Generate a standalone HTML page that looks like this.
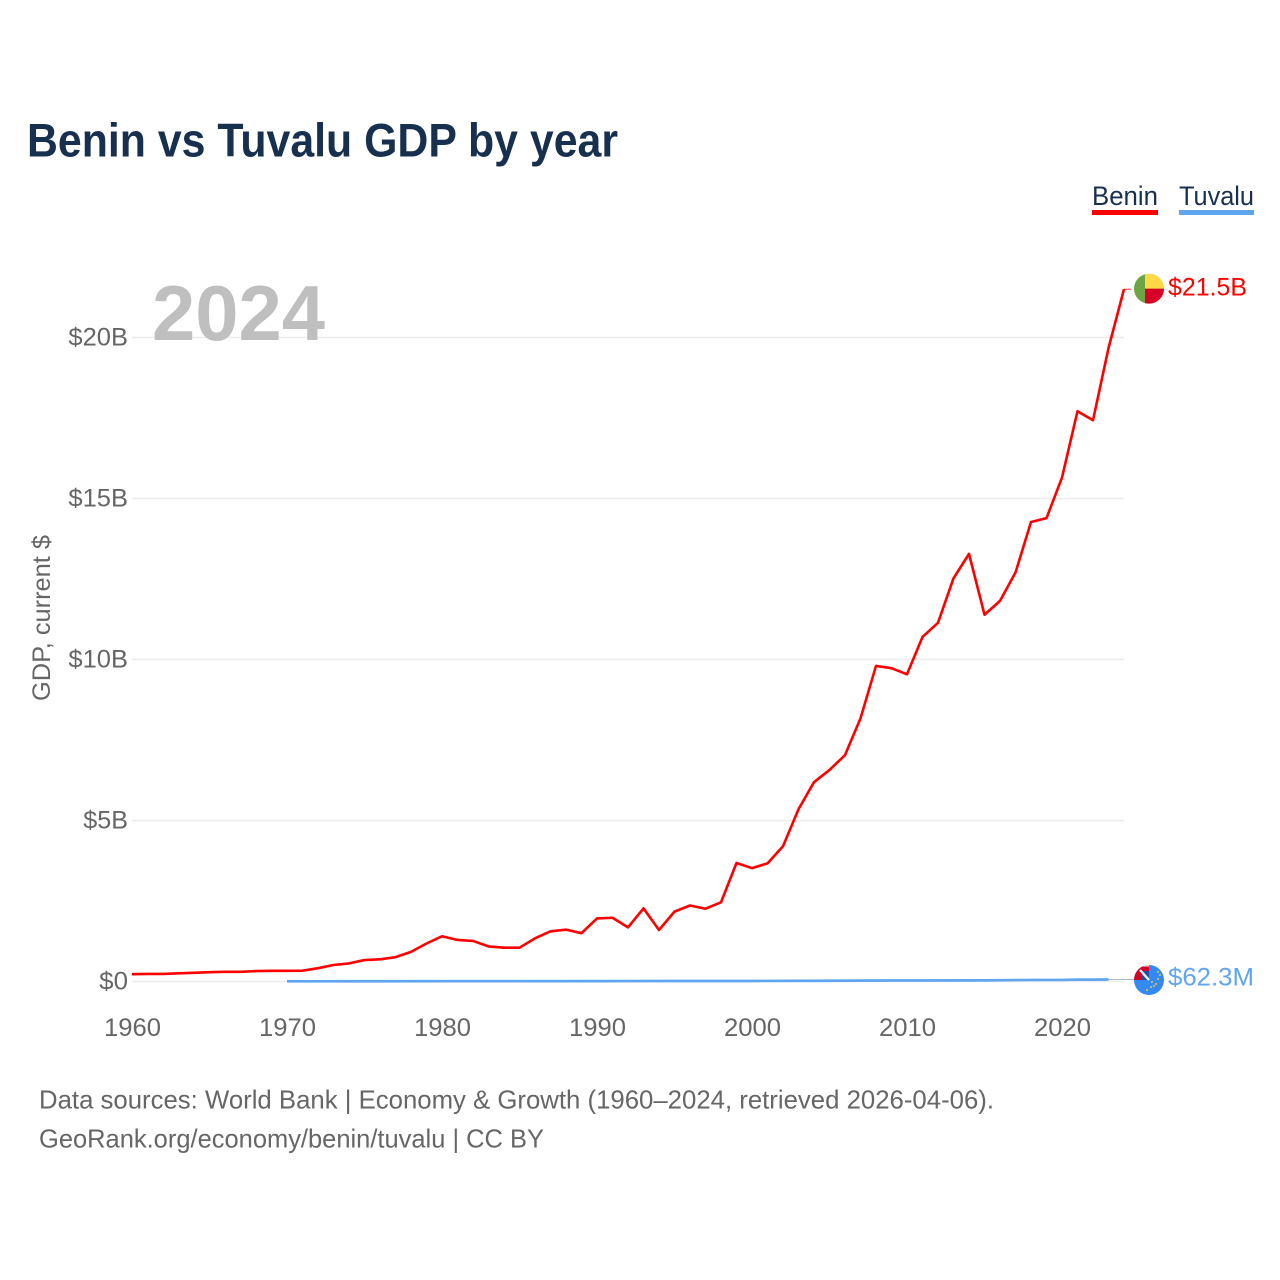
<!DOCTYPE html>
<html lang="en">
<head>
<meta charset="utf-8">
<title>Benin vs Tuvalu GDP by year</title>
<style>
html,body{margin:0;padding:0;background:#fff;width:1280px;height:1280px;overflow:hidden}
svg{display:block}
text{font-family:"Liberation Sans",sans-serif}
.tick{font-size:25px;fill:#666}
.note{font-size:26px;fill:#666}
</style>
</head>
<body>
<svg id="chart" xmlns="http://www.w3.org/2000/svg" width="1280" height="1280" viewBox="0 0 1280 1280">
  <defs>
    <clipPath id="flag-clip"><circle cx="0" cy="0" r="15"></circle></clipPath>
  </defs>
  <text x="27" y="156.5" font-size="47" font-weight="700" fill="#18304f" textLength="591" lengthAdjust="spacingAndGlyphs">Benin vs Tuvalu GDP by year</text>

  <g>
    <g>
      <text x="1092" y="205" font-size="27" fill="#18304f" textLength="66" lengthAdjust="spacingAndGlyphs">Benin</text>
      <rect x="1092" y="210" width="66" height="5" fill="#ff0000"></rect>
    </g>
    <g>
      <text x="1179" y="205" font-size="27" fill="#18304f" textLength="75" lengthAdjust="spacingAndGlyphs">Tuvalu</text>
      <rect x="1179" y="210" width="75" height="5" fill="#60a5ef"></rect>
    </g>
  </g>

  <g id="grid"></g>
  <text x="152" y="340" font-size="78" font-weight="700" fill="#bfbfbf" textLength="173" lengthAdjust="spacingAndGlyphs">2024</text>
  <g id="y-axis"></g>
  <g id="x-axis"></g>
  <text transform="translate(50,701) rotate(-90)" font-size="25" fill="#666" textLength="166" lengthAdjust="spacingAndGlyphs">GDP, current $</text>
  <g id="series"></g>

  <text class="note" x="39" y="1108.5" textLength="955" lengthAdjust="spacingAndGlyphs">Data sources: World Bank | Economy &amp; Growth (1960–2024, retrieved 2026-04-06).</text>
  <text class="note" x="39" y="1147.5" textLength="505" lengthAdjust="spacingAndGlyphs">GeoRank.org/economy/benin/tuvalu | CC BY</text>
</svg>
<script>
const beninYears = [1960,1961,1962,1963,1964,1965,1966,1967,1968,1969,1970,1971,1972,1973,1974,1975,1976,1977,1978,1979,1980,1981,1982,1983,1984,1985,1986,1987,1988,1989,1990,1991,1992,1993,1994,1995,1996,1997,1998,1999,2000,2001,2002,2003,2004,2005,2006,2007,2008,2009,2010,2011,2012,2013,2014,2015,2016,2017,2018,2019,2020,2021,2022,2023,2024];
const beninGdp = [0.226,0.236,0.236,0.253,0.270,0.289,0.301,0.302,0.324,0.331,0.333,0.335,0.413,0.512,0.562,0.666,0.688,0.756,0.921,1.18,1.405,1.29,1.26,1.09,1.05,1.05,1.34,1.56,1.61,1.50,1.96,1.98,1.68,2.27,1.60,2.17,2.36,2.26,2.46,3.68,3.52,3.67,4.20,5.35,6.19,6.57,7.03,8.17,9.80,9.73,9.54,10.70,11.14,12.52,13.28,11.39,11.82,12.70,14.27,14.39,15.65,17.71,17.43,19.67,21.50];
const tuvaluYears = [1970,1975,1980,1985,1990,1995,2000,2005,2010,2015,2018,2020,2021,2022,2023];
const tuvaluGdp = [0.006,0.008,0.010,0.009,0.012,0.015,0.016,0.024,0.032,0.036,0.048,0.049,0.060,0.058,0.0623];
const yTicks = [0,5,10,15,20];
const yTickLabels = ['$0','$5B','$10B','$15B','$20B'];
const xTicks = [1960,1970,1980,1990,2000,2010,2020];
const seriesEndLabels = ['$21.5B','$62.3M'];

const NS = 'http://www.w3.org/2000/svg';
function xScale(year){ return 132 + (year - 1960) * 15.5; }
function yScale(value){ return 981.5 - value * 32.2; }
function make(tag, attrs, parent, text){
  const el = document.createElementNS(NS, tag);
  for (const k in attrs) el.setAttribute(k, attrs[k]);
  if (text !== undefined) el.textContent = text;
  parent.appendChild(el);
  return el;
}
const grid = document.getElementById('grid');
const yAxis = document.getElementById('y-axis');
const xAxis = document.getElementById('x-axis');
const seriesLayer = document.getElementById('series');

yTicks.forEach((v, i) => {
  const line = make('line', {x1:132, x2:1124, y1:yScale(v), y2:yScale(v), stroke:'#ececec', 'stroke-width':1.5}, grid);
  
  
  const label = make('text', {class:'tick', x:128, y:yScale(v) + 8, 'text-anchor':'end', textLength:yTickLabels[i].length * 14.9 - (i === 0 ? 1 : 0), lengthAdjust:'spacingAndGlyphs'}, yAxis, yTickLabels[i]);
  
  
});
xTicks.forEach(year => {
  const label = make('text', {class:'tick', x:xScale(year) + 0.5, y:1036, 'text-anchor':'middle', textLength:57, lengthAdjust:'spacingAndGlyphs'}, xAxis, String(year));
  
  
});

function pathFrom(years, values){
  return years.map((y, i) => (i ? 'L' : 'M') + xScale(y).toFixed(2) + ' ' + yScale(values[i]).toFixed(2)).join(' ');
}
const tuvaluLine = make('path', {d:pathFrom(tuvaluYears, tuvaluGdp), fill:'none', stroke:'#60a5ef', 'stroke-width':2.7, 'stroke-linejoin':'round'}, seriesLayer);


const beninLine = make('path', {d:pathFrom(beninYears, beninGdp), fill:'none', stroke:'#ff0000', 'stroke-width':2.6, 'stroke-linejoin':'round'}, seriesLayer);



const flagX = 1149;
const beninEndX = xScale(beninYears[beninYears.length - 1]);
const beninEndY = yScale(beninGdp[beninGdp.length - 1]);
const tuvaluEndX = xScale(tuvaluYears[tuvaluYears.length - 1]);
const tuvaluEndY = yScale(tuvaluGdp[tuvaluGdp.length - 1]);

const beninConn = make('line', {x1:beninEndX, x2:flagX - 18, y1:beninEndY, y2:beninEndY, stroke:'#ff0000', 'stroke-width':1, opacity:0.8}, seriesLayer);


const tuvaluConn = make('line', {x1:tuvaluEndX, x2:flagX - 15, y1:tuvaluEndY, y2:tuvaluEndY, stroke:'#a9b9cc', 'stroke-width':1}, seriesLayer);



// Benin flag
const bf = make('g', {transform:`translate(${flagX},${beninEndY - 0.5})`, 'clip-path':'url(#flag-clip)'}, seriesLayer);


make('rect', {x:-15, y:-15, width:30, height:30, fill:'#6da544'}, bf);
make('rect', {x:-4, y:-15, width:19, height:15, fill:'#ffda44'}, bf);
make('rect', {x:-4, y:0, width:19, height:15, fill:'#d80027'}, bf);

// Tuvalu flag
const tf = make('g', {transform:`translate(${flagX},${tuvaluEndY + 0.5})`, 'clip-path':'url(#flag-clip)'}, seriesLayer);


make('rect', {x:-15, y:-15, width:30, height:30, fill:'#338af3'}, tf);
make('rect', {x:-15, y:-15, width:15, height:15, fill:'#d80027'}, tf);
make('rect', {x:-8, y:-9, width:8, height:9, fill:'#1f4fa3'}, tf);
make('path', {d:'M-9 -10 L0 0', stroke:'#f0f0f0', 'stroke-width':2.4, fill:'none'}, tf);
make('path', {d:'M-15 -15 L0 -15', stroke:'#f0f0f0', 'stroke-width':3, fill:'none'}, tf);
[[-2,10],[2,7],[5,6],[9,-1],[11,-5],[9,-8],[3,2],[7,4]].forEach(p => {
  make('circle', {cx:p[0], cy:p[1], r:1, fill:'#e8c84a'}, tf);
});

const bl = make('text', {x:1168, y:beninEndY + 6.5, 'font-size':25, fill:'#ff0000', textLength:79, lengthAdjust:'spacingAndGlyphs'}, seriesLayer, seriesEndLabels[0]);


const tl = make('text', {x:1168, y:tuvaluEndY + 6, 'font-size':25, fill:'#60a5ef', textLength:86, lengthAdjust:'spacingAndGlyphs'}, seriesLayer, seriesEndLabels[1]);


</script>
</body>
</html>
